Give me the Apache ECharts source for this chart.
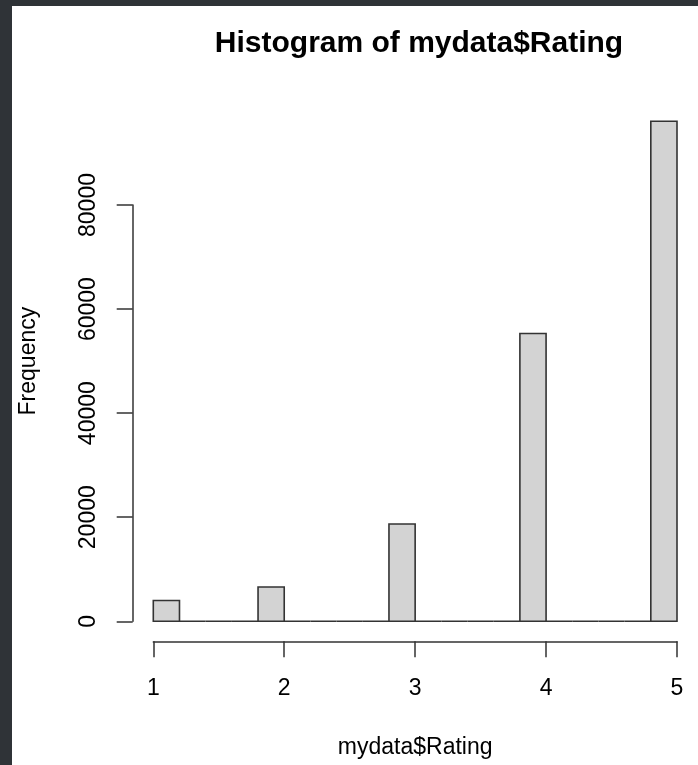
<!DOCTYPE html>
<html>
<head>
<meta charset="utf-8">
<script src="https://cdn.jsdelivr.net/npm/echarts@6/dist/echarts.min.js"></script>
<style>
  html, body { margin: 0; padding: 0; background: #ffffff; }
  #chart { width: 698px; height: 765px; }
</style>
</head>
<body>
<div id="chart"></div>
<script>
// Histogram bin edges (R hist default breaks for mydata$Rating)
const breaks = [1.0, 1.2, 1.4, 1.6, 1.8, 2.0, 2.2, 2.4, 2.6, 2.8, 3.0, 3.2, 3.4, 3.6, 3.8, 4.0, 4.2, 4.4, 4.6, 4.8, 5.0];
// Frequency per bin
const counts = [4000, 0, 0, 0, 6600, 0, 0, 0, 0, 18700, 0, 0, 0, 0, 55300, 0, 0, 0, 0, 96100];
const xTicks = [1, 2, 3, 4, 5];
const yTicks = [0, 20000, 40000, 60000, 80000];
const titleText = 'Histogram of mydata$Rating';
const xTitle = 'mydata$Rating';
const yTitle = 'Frequency';

const binData = counts.map((c, i) => [breaks[i], breaks[i + 1], c]);

const FONT = '"Liberation Sans", Arial, sans-serif';
const AXIS_COLOR = '#333333';

const chart = echarts.init(document.getElementById('chart'), null, { renderer: 'canvas' });

chart.setOption({
  backgroundColor: '#ffffff',
  animation: false,
  title: {
    text: titleText,
    left: 414,
    top: 24,
    textAlign: 'center',
    textStyle: { fontFamily: FONT, fontWeight: 'bold', fontSize: 30, color: '#000' }
  },
  graphic: [
    { type: 'rect', left: 0, top: 0, shape: { width: 698, height: 6 }, style: { fill: '#2f3337' }, z: 100 },
    { type: 'rect', left: 0, top: 0, shape: { width: 12, height: 765 }, style: { fill: '#2f3337' }, z: 100 }
  ],
  grid: [
    { left: 153.3, right: 21, top: 100.9, height: 520.4 },
    { left: 132.7, width: 1, top: 205, height: 416.3 }
  ],
  xAxis: [
    {
      gridIndex: 0,
      type: 'value',
      min: xTicks[0],
      max: xTicks[xTicks.length - 1],
      interval: 1,
      offset: 20,
      axisLine: { show: true, onZero: false, lineStyle: { color: AXIS_COLOR, width: 1.5 } },
      axisTick: { show: true, length: 16, lineStyle: { color: AXIS_COLOR, width: 1.5 } },
      axisLabel: { margin: 36, fontFamily: FONT, fontSize: 23, color: '#000',
        formatter: v => String(v) },
      splitLine: { show: false },
      name: xTitle,
      nameLocation: 'middle',
      nameGap: 95,
      nameTextStyle: { fontFamily: FONT, fontSize: 23, color: '#000' }
    },
    { gridIndex: 1, type: 'value', show: false }
  ],
  yAxis: [
    {
      gridIndex: 0,
      type: 'value',
      min: 0,
      max: 100000,
      axisLine: { show: false, onZero: false },
      axisTick: { show: false },
      axisLabel: { show: false },
      splitLine: { show: false },
      name: yTitle,
      nameLocation: 'middle',
      nameGap: 113,
      nameTextStyle: { fontFamily: FONT, fontSize: 23, color: '#000' }
    },
    {
      gridIndex: 1,
      type: 'value',
      min: yTicks[0],
      max: yTicks[yTicks.length - 1],
      interval: yTicks[1] - yTicks[0],
      axisLine: { show: true, onZero: false, lineStyle: { color: AXIS_COLOR, width: 1.5 } },
      axisTick: { show: true, length: 16, lineStyle: { color: AXIS_COLOR, width: 1.5 } },
      axisLabel: { rotate: 90, margin: 33, fontFamily: FONT, fontSize: 23, color: '#000',
        formatter: v => String(v) },
      splitLine: { show: false }
    }
  ],
  series: [
    {
      type: 'custom',
      xAxisIndex: 0,
      yAxisIndex: 0,
      clip: false,
      data: binData,
      encode: { x: [0, 1], y: 2 },
      renderItem: function (params, api) {
        const x0 = api.value(0), x1 = api.value(1), c = api.value(2);
        const pTop = api.coord([x0, c]);
        const pBot = api.coord([x1, 0]);
        return {
          type: 'rect',
          shape: { x: pTop[0], y: pTop[1], width: pBot[0] - pTop[0], height: pBot[1] - pTop[1] },
          style: { fill: '#d3d3d3', stroke: '#333333', lineWidth: 1.6 }
        };
      }
    }
  ]
});
</script>
</body>
</html>
